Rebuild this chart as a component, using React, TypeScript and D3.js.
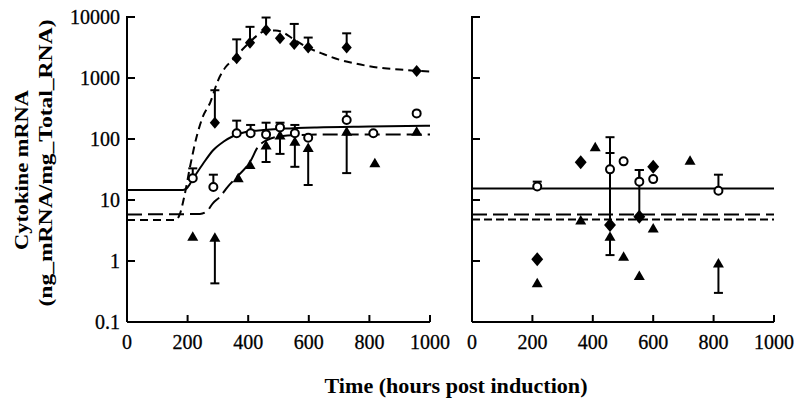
import React from 'react';
import * as d3 from 'd3';

// ---- axis ticks ----
const yTicks = [0.1, 1, 10, 100, 1000, 10000];
const yTickLabels = ['0.1', '1', '10', '100', '1000', '10000'];
const xTicks = [0, 200, 400, 600, 800, 1000];
const xTickLabels = ['0', '200', '400', '600', '800', '1000'];

// ---- left panel data ----
const leftDiamondT = [290, 362, 406, 459, 505, 552, 598, 725, 956];
const leftDiamondV = [185, 2100, 3800, 6100, 4500, 3600, 3150, 3150, 1300];
const leftDiamondHi = [630, 4300, 6900, 9800, null, 7700, 4600, 5400, null];

const leftCircleT = [217, 285, 362, 408, 459, 505, 554, 598, 725, 813, 956];
const leftCircleV = [22.7, 16.3, 124, 124, 119, 155, 124, 105, 205, 124, 263];
const leftCircleHi = [33, 26, 200, 170, 185, 185, 170, null, 280, null, null];

const leftTriT = [217, 290, 367, 406, 459, 505, 554, 598, 725, 818, 956];
const leftTriV = [2.5, 2.4, 22.7, 37.5, 78, 114, 90, 71, 132, 40, 132];
const leftTriLo = [null, 0.43, null, null, 42, 57, 35, 17.6, 27.6, null, null];

// fitted curves (left)
const solidT = [0, 185, 197, 219, 252, 285, 318, 351, 395, 450, 520, 626, 800, 1000];
const solidV = [14.6, 14.6, 15.5, 22.7, 40, 66, 90, 112, 132, 140, 148, 155, 160, 165];

const longT = [0, 241, 263, 284, 307, 333, 363, 406, 432, 462, 500, 560, 700, 1000];
const longV = [5.8, 5.9, 6.5, 8.9, 11.3, 16.6, 24, 42, 74, 96, 110, 116, 119, 119];

const shortT = [0, 160, 175, 190, 208, 230, 250, 275, 300, 325, 350, 380, 406, 430, 460, 490, 515, 550, 600, 650, 700, 750, 800, 850, 900, 950, 1000];
const shortV = [4.7, 4.7, 6, 12, 35, 110, 230, 400, 900, 1500, 2000, 2900, 3900, 5000, 6000, 6000, 5600, 4300, 3100, 2450, 2000, 1740, 1560, 1440, 1380, 1320, 1280];

// ---- right panel data ----
const rightCircleT = [216, 457, 502, 554, 600, 816];
const rightCircleV = [16.6, 31.8, 43, 20, 22, 14.2];
const rightCircleHi = [20, 107, null, 31, null, 26];

const rightDiamondT = [216, 360, 457, 554, 600];
const rightDiamondV = [1.07, 41.5, 3.9, 5.3, 35];
const rightDiamondHi = [null, null, 59, 31, null];

const rightTriT = [216, 360, 408, 457, 502, 554, 600, 722, 816];
const rightTriV = [0.43, 4.6, 73, 2.5, 1.17, 0.57, 3.4, 44, 0.91];
const rightTriLo = [null, null, null, 1.25, null, null, null, null, 0.3];

const rightLevelT = [0, 1000];
const rightSolid = [15.5, 15.5];
const rightLong = [5.8, 5.8];
const rightShort = [4.8, 4.8];

const y = d3.scaleLog().domain([0.1, 10000]).range([322, 17]);
const xL = d3.scaleLinear().domain([0, 1000]).range([127, 430]);
const xR = d3.scaleLinear().domain([0, 1000]).range([472, 774]);

const FONT = '"Liberation Serif", "Times New Roman", serif';

function curvePath(x: any, ts: number[], vs: number[]) {
  const gen = d3.line<number>()
    .x((_, i) => x(ts[i]))
    .y((_, i) => y(vs[i]))
    .curve(d3.curveMonotoneX);
  return gen(ts) || '';
}

function Diamond({ cx, cy, s }: any) {
  return <path d={`M${cx},${cy - s}L${cx + s * 0.85},${cy}L${cx},${cy + s}L${cx - s * 0.85},${cy}Z`} fill="#000" />;
}
function Tri({ cx, cy }: any) {
  return <path d={`M${cx},${cy - 5.5}L${cx + 5.5},${cy + 4}L${cx - 5.5},${cy + 4}Z`} fill="#000" />;
}
function Circ({ cx, cy }: any) {
  return <circle cx={cx} cy={cy} r={4} fill="#fff" stroke="#000" strokeWidth={2} />;
}
function ErrBar({ x, y1, y2 }: any) {
  return (
    <g stroke="#000" strokeWidth={2}>
      <line x1={x} x2={x} y1={y1} y2={y2} />
      <line x1={x - 4.5} x2={x + 4.5} y1={y2} y2={y2} />
    </g>
  );
}

function Panel({ x, showY }: { x: any; showY: boolean }) {
  const [x0, x1] = x.range();
  return (
    <g>
      <line x1={x0} x2={x0} y1={y(10000) - 1} y2={y(0.1)} stroke="#000" strokeWidth={2} />
      <line x1={x0} x2={x1} y1={y(0.1)} y2={y(0.1)} stroke="#000" strokeWidth={2} />
      {yTicks.map((t, i) => (
        <g key={'y' + i}>
          <line x1={x0} x2={x0 + 8} y1={y(t)} y2={y(t)} stroke="#000" strokeWidth={2} />
          {showY && (
            <text x={x0 - 7} y={y(t)} dy="0.35em" textAnchor="end" fontFamily={FONT} fontSize={20} stroke="#000" strokeWidth={0.3}>{yTickLabels[i]}</text>
          )}
        </g>
      ))}
      {xTicks.map((t, i) => (
        <g key={'x' + i}>
          <line x1={x(t)} x2={x(t)} y1={y(0.1)} y2={y(0.1) - 7} stroke="#000" strokeWidth={2} />
          <text x={x(t)} y={348.5} textAnchor="middle" fontFamily={FONT} fontSize={20} stroke="#000" strokeWidth={0.3}>{xTickLabels[i]}</text>
        </g>
      ))}
    </g>
  );
}

export default function App() {
  return (
    <svg width={800} height={407} style={{ position: 'absolute', left: 0, top: 0, background: '#fff' }}>
      <rect width={800} height={407} fill="#fff" />
      <Panel x={xL} showY={true} />
      <Panel x={xR} showY={false} />

      {/* left curves */}
      <path d={curvePath(xL, solidT, solidV)} fill="none" stroke="#000" strokeWidth={2} />
      <path d={curvePath(xL, longT, longV)} fill="none" stroke="#000" strokeWidth={2} strokeDasharray="15,6" />
      <path d={curvePath(xL, shortT, shortV)} fill="none" stroke="#000" strokeWidth={2} strokeDasharray="8,5" />

      {/* right level lines */}
      <path d={curvePath(xR, rightLevelT, rightSolid)} fill="none" stroke="#000" strokeWidth={2} />
      <path d={curvePath(xR, rightLevelT, rightLong)} fill="none" stroke="#000" strokeWidth={2} strokeDasharray="15,6" />
      <path d={curvePath(xR, rightLevelT, rightShort)} fill="none" stroke="#000" strokeWidth={2} strokeDasharray="8,4" />

      {/* left error bars */}
      {leftDiamondT.map((t, i) => leftDiamondHi[i] != null && <ErrBar key={'ld' + i} x={xL(t)} y1={y(leftDiamondV[i])} y2={y(leftDiamondHi[i] as number)} />)}
      {leftCircleT.map((t, i) => leftCircleHi[i] != null && <ErrBar key={'lc' + i} x={xL(t)} y1={y(leftCircleV[i])} y2={y(leftCircleHi[i] as number)} />)}
      {leftTriT.map((t, i) => leftTriLo[i] != null && <ErrBar key={'lt' + i} x={xL(t)} y1={y(leftTriV[i])} y2={y(leftTriLo[i] as number)} />)}
      {/* right error bars */}
      {rightDiamondT.map((t, i) => rightDiamondHi[i] != null && <ErrBar key={'rd' + i} x={xR(t)} y1={y(rightDiamondV[i])} y2={y(rightDiamondHi[i] as number)} />)}
      {rightCircleT.map((t, i) => rightCircleHi[i] != null && <ErrBar key={'rc' + i} x={xR(t)} y1={y(rightCircleV[i])} y2={y(rightCircleHi[i] as number)} />)}
      {rightTriT.map((t, i) => rightTriLo[i] != null && <ErrBar key={'rt' + i} x={xR(t)} y1={y(rightTriV[i])} y2={y(rightTriLo[i] as number)} />)}

      {/* markers */}
      {leftDiamondT.map((t, i) => <Diamond key={'md' + i} cx={xL(t)} cy={y(leftDiamondV[i])} s={6} />)}
      {leftCircleT.map((t, i) => <Circ key={'mc' + i} cx={xL(t)} cy={y(leftCircleV[i])} />)}
      {leftTriT.map((t, i) => <Tri key={'mt' + i} cx={xL(t)} cy={y(leftTriV[i])} />)}
      {rightDiamondT.map((t, i) => <Diamond key={'nd' + i} cx={xR(t)} cy={y(rightDiamondV[i])} s={7} />)}
      {rightCircleT.map((t, i) => <Circ key={'nc' + i} cx={xR(t)} cy={y(rightCircleV[i])} />)}
      {rightTriT.map((t, i) => <Tri key={'nt' + i} cx={xR(t)} cy={y(rightTriV[i])} />)}

      {/* titles */}
      <text x={456} y={393} textAnchor="middle" fontFamily={FONT} fontSize={20} fontWeight="bold" textLength={263} lengthAdjust="spacingAndGlyphs">Time (hours post induction)</text>
      <text transform="translate(28,170) rotate(-90)" textAnchor="middle" fontFamily={FONT} fontSize={18} fontWeight="bold" textLength={160} lengthAdjust="spacingAndGlyphs">Cytokine mRNA</text>
      <text transform="translate(52,163) rotate(-90)" textAnchor="middle" fontFamily={FONT} fontSize={18} fontWeight="bold" textLength={287} lengthAdjust="spacingAndGlyphs">(ng_mRNA/mg_Total_RNA)</text>
    </svg>
  );
}
